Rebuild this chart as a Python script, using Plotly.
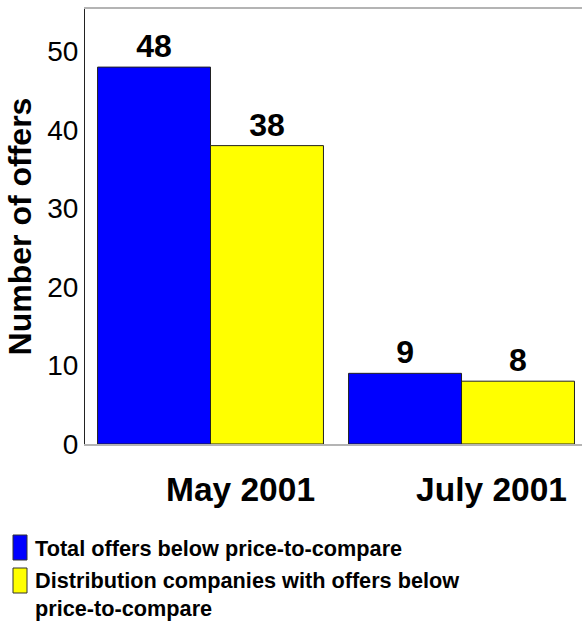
import plotly.graph_objects as go

# Offers below the price-to-compare, by survey month
periods = ["May 2001", "July 2001"]
total_offers = [48, 9]
distribution_offers = [38, 8]

series_names = [
    "Total offers below price-to-compare",
    "Distribution companies with offers below<br>price-to-compare",
]
series_colors = ["#0000FF", "#FFFF00"]
y_ticks = [0, 10, 20, 30, 40, 50]

FONT = "Liberation Sans, Arial, sans-serif"
W, H = 582, 623
L, R, T, B = 85, 0, 9, 179
PW, PH = W - L - R, H - T - B


def px_x(px):
    return (px - L) / PW


def px_y(py):
    return (H - B - py) / PH


fig = go.Figure()
for name, vals, color in zip(series_names, [total_offers, distribution_offers], series_colors):
    fig.add_trace(go.Bar(
        x=periods,
        y=vals,
        name=name,
        marker=dict(color=color, line=dict(color="#222222", width=1)),
        texttemplate="%{y}",
        textposition="outside",
        textfont=dict(family=FONT, size=32, color="black", weight="bold"),
        cliponaxis=False,
        showlegend=False,
    ))

# Legend drawn as tall swatches with wrapped labels below the chart
legend_rows = [
    (535, 560, series_colors[0], ["Total offers below price-to-compare"], [548]),
    (568, 593, series_colors[1], ["Distribution companies with offers below", "price-to-compare"], [580, 608]),
]
shapes = []
annotations = []
for y0, y1, color, lines, centers in legend_rows:
    shapes.append(dict(
        type="rect", xref="paper", yref="paper",
        x0=px_x(13), x1=px_x(27), y0=px_y(y1), y1=px_y(y0),
        fillcolor=color, line=dict(color="#333333", width=1),
    ))
    for text, cy in zip(lines, centers):
        annotations.append(dict(
            xref="paper", yref="paper", x=px_x(33), y=px_y(cy),
            xanchor="left", yanchor="middle", showarrow=False,
            text=text, font=dict(family=FONT, size=21.7, color="black", weight="bold"),
        ))

fig.update_layout(
    width=W, height=H,
    margin=dict(l=L, r=R, t=T, b=B, pad=0),
    paper_bgcolor="white", plot_bgcolor="white",
    barmode="group", bargap=0.1, bargroupgap=0,
    font=dict(family=FONT, color="black"),
    shapes=shapes,
    annotations=annotations,
    xaxis=dict(
        range=[-0.5, 1.48],
        showline=True, linecolor="#b4b4b4", linewidth=1.5, mirror=True,
        showgrid=False, ticks="",
        tickfont=dict(family=FONT, size=33.5, color="black", weight="bold"),
        ticklabelstandoff=15, ticklabelshift=30,
    ),
    yaxis=dict(
        range=[0, 55.4],
        tickvals=y_ticks,
        showline=True, linecolor="#222222", linewidth=1,
        showgrid=False, zeroline=False, ticks="",
        tickfont=dict(family=FONT, size=28, color="black"),
        ticklabelstandoff=0,
        title=dict(text="Number of offers", standoff=6,
                   font=dict(family=FONT, size=32, color="black", weight="bold")),
    ),
)

fig.write_html("out.html")
